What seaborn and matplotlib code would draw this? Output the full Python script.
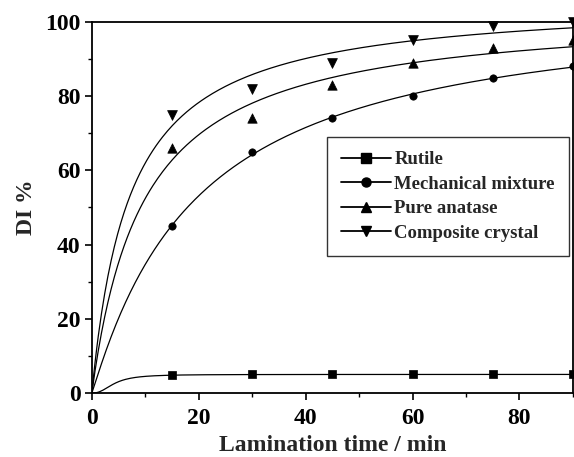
import numpy as np
import pandas as pd
import seaborn as sns
import matplotlib
matplotlib.use("Agg")
import matplotlib.pyplot as plt
from matplotlib.lines import Line2D

time_min = [15, 30, 45, 60, 75, 90]
rutile = [4.8, 5.0, 5.0, 5.0, 5.0, 5.0]
mechanical = [45, 65, 74, 80, 85, 88]
anatase = [66, 74, 83, 89, 93, 95]
composite = [75, 82, 89, 95, 99, 100]
series_names = ["Rutile", "Mechanical mixture", "Pure anatase", "Composite crystal"]
series_values = [rutile, mechanical, anatase, composite]
markers = ["s", "o", "^", "v"]
msizes = [36, 28, 46, 50]

sns.set_theme(style="ticks")
plt.rcParams["font.family"] = ["Liberation Serif", "DejaVu Serif"]
plt.rcParams["font.weight"] = "bold"

fig = plt.figure(figsize=(5.74, 4.57), dpi=100)
ax = fig.add_axes([0.160, 0.140, 0.838, 0.812])


def fit_curve(x, y):
    # least-squares fit of a Hill-type saturation curve y = a*x^p/(b^p + x^p)
    x = np.asarray([0] + list(x), float)
    y = np.asarray([0] + list(y), float)
    best = None
    for p in np.linspace(1.0, 2.5, 31):
        for b in np.linspace(1.0, 80, 400):
            g = x ** p / (b ** p + x ** p)
            a = (g @ y) / (g @ g)
            err = np.sum((a * g - y) ** 2)
            if best is None or err < best[0] - 1e-9:
                best = (err, a, b, p)
    _, a, b, p = best
    xs = np.linspace(0, 90, 300)
    return xs, a * xs ** p / (b ** p + xs ** p)


rows = []
for name, vals in zip(series_names, series_values):
    xs, ys = fit_curve(time_min, vals)
    rows.append(pd.DataFrame({"t": xs, "v": ys, "s": name}))
curves = pd.concat(rows)
pts = pd.DataFrame({
    "t": time_min * 4,
    "v": sum(series_values, []),
    "s": np.repeat(series_names, len(time_min)),
})

for name, m, ms in zip(series_names, markers, msizes):
    sns.lineplot(data=curves[curves.s == name], x="t", y="v", ax=ax,
                 color="black", lw=0.9, legend=False)
    sns.scatterplot(data=pts[pts.s == name], x="t", y="v", ax=ax,
                    marker=m, s=ms, color="black", edgecolor="black",
                    linewidth=0.5, legend=False, clip_on=False, zorder=3)

ax.set_xlim(0, 90)
ax.set_ylim(0, 100)
ax.set_xticks([0, 20, 40, 60, 80])
ax.set_xticks([10, 30, 50, 70, 90], minor=True)
ax.set_yticks([0, 20, 40, 60, 80, 100])
ax.set_yticks([10, 30, 50, 70, 90], minor=True)
ax.tick_params(axis="both", which="major", direction="out", length=5,
               width=1.2, labelsize=17, color="black", labelcolor="black", pad=3)
ax.tick_params(axis="x", which="major", pad=6)
ax.tick_params(axis="both", which="minor", direction="out", length=3,
               width=1.0, color="black")
for lab in ax.get_xticklabels() + ax.get_yticklabels():
    lab.set_fontweight("bold")
for sp in ax.spines.values():
    sp.set_visible(True)
    sp.set_color("black")
    sp.set_linewidth(1.3)

ax.set_xlabel("Lamination time / min", fontsize=17, fontweight="bold", labelpad=4)
ax.set_ylabel("DI %", fontsize=17, fontweight="bold", labelpad=6)

handles = [Line2D([0], [0], color="black", lw=1.3, marker=m, markersize=6.5,
                  markerfacecolor="black", markeredgecolor="black")
           for m in markers]
leg = ax.legend(handles, series_names, loc="upper right",
                bbox_to_anchor=(0.992, 0.69), frameon=True, fancybox=False,
                edgecolor="black", prop={"size": 13.5, "weight": "bold"},
                handlelength=2.65, handletextpad=0.2, labelspacing=0.4,
                borderpad=0.75, borderaxespad=0.0)
leg.get_frame().set_linewidth(1.0)

fig.savefig("out.png", dpi=100)
